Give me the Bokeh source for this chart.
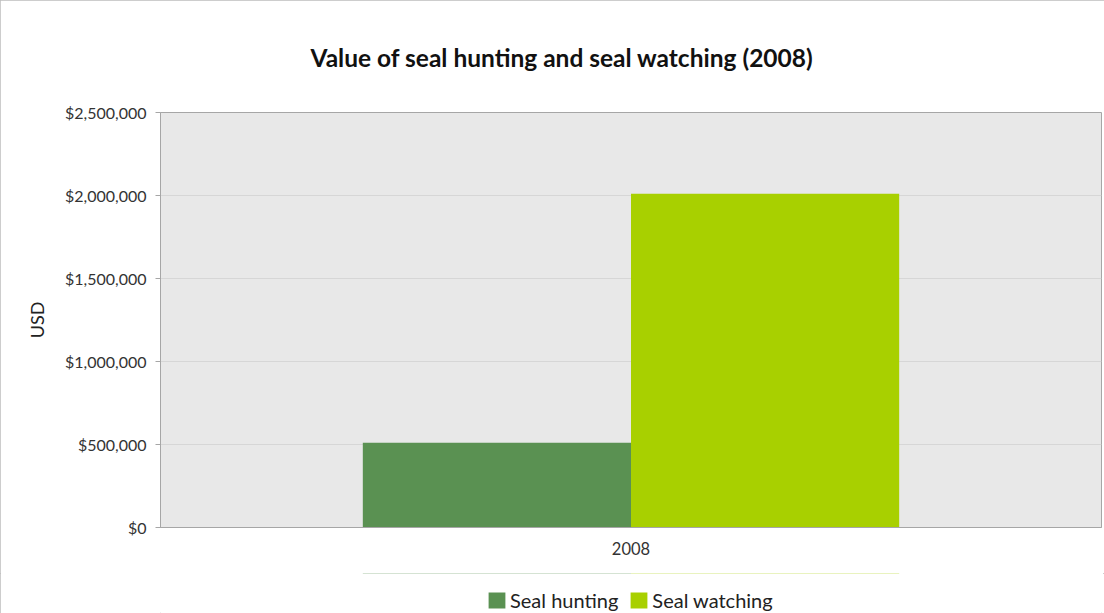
from bokeh.plotting import figure
from bokeh.layouts import column
from bokeh.models import ColumnDataSource, NumeralTickFormatter, Legend, LegendItem, FixedTicker
from bokeh.transform import dodge
from bokeh.embed import file_html
from bokeh.resources import INLINE

years = ["2008"]
seal_hunting = [510000]
seal_watching = [2010000]
series_names = ["Seal hunting", "Seal watching"]
colors = ["#5A9152", "#A8D000"]
y_ticks = [0, 500000, 1000000, 1500000, 2000000, 2500000]

src = ColumnDataSource(dict(year=years, hunting=seal_hunting, watching=seal_watching))

FONT = "Lato"
p = figure(x_range=years, y_range=(0, 2500000), width=1104, height=573,
           output_backend="svg", toolbar_location=None,
           title="Value of seal hunting and seal watching (2008)",
           min_border_left=160, min_border_right=3, min_border_top=112, min_border_bottom=46)

p.vbar(x=dodge("year", -0.1425, range=p.x_range), top="hunting", width=0.285, source=src,
       fill_color=colors[0], line_color=None)
p.vbar(x=dodge("year", 0.1425, range=p.x_range), top="watching", width=0.285, source=src,
       fill_color=colors[1], line_color=None)

p.title.text_font = FONT
p.title.text_font_size = "24.5px"
p.title.text_font_style = "bold"
p.title.text_color = "#111111"
p.title.align = "left"
p.title.offset = 150
p.title.vertical_align = "top"
p.title.standoff = 78

p.background_fill_color = "#e8e8e8"
p.border_fill_color = "white"
p.outline_line_color = "#a6a6a6"
p.outline_line_width = 1

p.yaxis.ticker = FixedTicker(ticks=y_ticks)
p.yaxis.formatter = NumeralTickFormatter(format="$0,0")
p.yaxis.axis_label = "USD"
p.yaxis.axis_label_text_font = FONT
p.yaxis.axis_label_text_font_size = "18px"
p.yaxis.axis_label_text_font_style = "normal"
p.yaxis.axis_label_text_color = "#222222"
p.yaxis.axis_label_standoff = 14
p.yaxis.major_label_text_font = FONT
p.yaxis.major_label_text_font_size = "16px"
p.yaxis.major_label_text_color = "#333333"
p.yaxis.major_tick_out = 5
p.yaxis.major_tick_in = 0
p.yaxis.minor_tick_line_color = None
p.yaxis.major_tick_line_color = "#a6a6a6"
p.yaxis.axis_line_color = "#a6a6a6"
p.yaxis.major_label_standoff = 9

p.xaxis.major_label_text_font = FONT
p.xaxis.major_label_text_font_size = "16.5px"
p.xaxis.major_label_text_color = "#333333"
p.xaxis.major_tick_line_color = None
p.xaxis.major_tick_out = 0
p.xaxis.axis_line_color = "#a6a6a6"
p.xaxis.major_label_standoff = 14

p.xgrid.grid_line_color = None
p.ygrid.grid_line_color = "#d6d6d6"
p.ygrid.grid_line_width = 1

# Legend strip: a second figure; its bars lie far outside its y range so only the legend shows
lp = figure(x_range=years, y_range=(-20, -10), width=1104, height=40,
            output_backend="svg", toolbar_location=None,
            x_axis_type=None, y_axis_type=None, min_border=0)
lp.min_border_left = 0
lp.min_border_right = 0
lp.min_border_top = 0
lp.min_border_bottom = 0
lp.outline_line_color = None
lp.background_fill_color = "white"
lp.border_fill_color = "white"
lp.grid.visible = False
lr1 = lp.vbar(x=dodge("year", -0.1425, range=lp.x_range), top="hunting", width=0.285, source=src,
              fill_color=colors[0], line_color=None)
lr2 = lp.vbar(x=dodge("year", 0.1425, range=lp.x_range), top="watching", width=0.285, source=src,
              fill_color=colors[1], line_color=None)

legend = Legend(items=[LegendItem(label=series_names[0], renderers=[lr1]),
                       LegendItem(label=series_names[1], renderers=[lr2])],
                orientation="horizontal", location=(326, 1))
legend.label_text_font = FONT
legend.label_text_font_size = "20px"
legend.label_text_color = "#222222"
legend.glyph_width = 21
legend.glyph_height = 20
legend.label_height = 20
legend.spacing = 10
legend.label_standoff = 3
legend.border_line_color = None
legend.background_fill_alpha = 0
legend.margin = 0
legend.padding = 2
lp.add_layout(legend, "center")

layout = column(p, lp, spacing=0)
layout.styles = {"outline": "2px solid #bdbdbd", "outline-offset": "-1px"}

open("out.html", "w").write(file_html(layout, INLINE))
